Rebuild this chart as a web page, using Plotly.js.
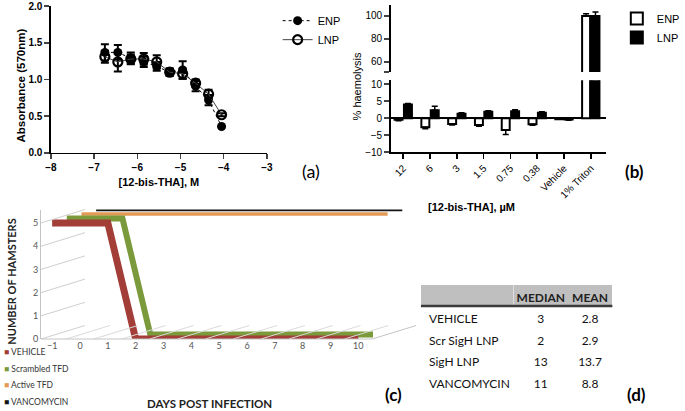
<!DOCTYPE html>
<html><head><meta charset="utf-8">
<script src="https://cdn.plot.ly/plotly-3.0.1.min.js"></script>
<style>html,body{margin:0;padding:0;background:#fff;}#chart{width:685px;height:411px;}</style>
</head><body><div id="chart"></div>
<script>
// ---------- Panel (a): absorbance vs log concentration ----------
const logConc = [-6.75,-6.45,-6.15,-5.85,-5.55,-5.25,-4.95,-4.65,-4.35,-4.05];
const absENP  = [1.37,1.37,1.29,1.24,1.18,1.10,1.13,0.91,0.72,0.36];
const errENP  = [0.11,0.10,0.08,0.07,0.06,0.05,0.12,0.07,0.07,0.00];
const absLNP  = [1.31,1.24,1.28,1.28,1.24,1.10,1.08,0.95,0.80,0.52];
const errLNP  = [0.08,0.13,0.06,0.08,0.09,0.05,0.07,0.05,0.06,0.02];

// ---------- Panel (b): % haemolysis ----------
const hemoCats = ['12','6','3','1.5','0.75','0.38','Vehicle','1% Triton'];
const hemoENP        = [-0.5,-2.7,-1.7,-2.0,-3.5,-1.8,-0.3,100];
const hemoENPerrUp   = [0,0,0,0,0,0,0,2.0];
const hemoENPerrDown = [0.3,0.4,0.3,0.4,1.3,0.3,0,0];
const hemoLNP        = [4.0,2.3,1.3,1.9,2.0,1.6,-0.4,100];
const hemoLNPerrUp   = [0.3,1.2,0.3,0.3,0.5,0.3,0,3.5];
const hemoLNPerrDown = [0,0,0,0,0,0,0.2,0];

// ---------- Panel (c): survival ----------
const days = [-1,0,1,2,3,4,5,6,7,8,9,10];
const survVehicle   = [5,5,5,0,0,0,0,0,0,0,0,0];
const survScrambled = [5,5,5,0,0,0,0,0,0,0,0,0];
const survActive    = [5,5,5,5,5,5,5,5,5,5,5,5];
const survVanco     = [5,5,5,5,5,5,5,5,5,5,5,5];
const survNames  = ['VEHICLE','Scrambled TFD','Active TFD','VANCOMYCIN'];
const survColors = ['#a23d37','#7b9a3c','#e39a55','#151515'];

// ---------- Panel (d): table ----------
const tblGroups = ['VEHICLE','Scr SigH LNP','SigH LNP','VANCOMYCIN'];
const tblMedian = ['3','2','13','11'];
const tblMean   = ['2.8','2.9','13.7','8.8'];

const W = 685, H = 411;
const AR = 'Liberation Sans, Arial, sans-serif';
const CAL = 'Lato, Open Sans, sans-serif';
const idx = hemoCats.map((_, i) => i);
const noWrap = s => s.replace(/ /g, '\u00a0');

const traces = [];
// (a)
traces.push({type:'scatter', mode:'lines+markers', x:logConc, y:absENP, name:'ENP', xaxis:'x', yaxis:'y', legend:'legend',
  line:{color:'#000', width:1, dash:'dot'}, marker:{symbol:'circle', size:9, color:'#000'},
  error_y:{type:'data', array:errENP, color:'#000', thickness:2, width:4}});
traces.push({type:'scatter', mode:'lines+markers', x:logConc, y:absLNP, name:'LNP', xaxis:'x', yaxis:'y', legend:'legend',
  line:{color:'#444', width:1}, marker:{symbol:'circle-open', size:9, color:'#000', line:{width:2.2, color:'#000'}},
  error_y:{type:'data', array:errLNP, color:'#000', thickness:2, width:4}});
// (b) lower and upper segments of the broken axis
[['y2', true], ['y3', false]].forEach(([ya, leg]) => {
  traces.push({type:'bar', x:idx, y:hemoENP, name:'ENP', xaxis:'x2', yaxis:ya, legend:'legend2', showlegend:leg,
    marker:{color:'#fff', line:{color:'#000', width:2}},
    error_y:{type:'data', symmetric:false, array:hemoENPerrUp, arrayminus:hemoENPerrDown, color:'#000', thickness:1.5, width:3}});
  traces.push({type:'bar', x:idx, y:hemoLNP, name:'LNP', xaxis:'x2', yaxis:ya, legend:'legend2', showlegend:leg,
    marker:{color:'#000', line:{color:'#000', width:2}},
    error_y:{type:'data', symmetric:false, array:hemoLNPerrUp, arrayminus:hemoLNPerrDown, color:'#000', thickness:1.5, width:3}});
});
// (c) pseudo-3D: back wall subplot x3/y4 (grid only), then one subplot per series, back to front (x4/y5 ... x7/y8)
const survSeries = [survVehicle, survScrambled, survActive, survVanco];
const cWidths = [7, 6, 3.5, 3.5];
for (let k = 0; k < 4; k++) {
  const s = 3 - k;
  traces.push({type:'scatter', mode:'lines', x:days, y:survSeries[s], name:survNames[s],
    xaxis:'x' + (k + 4), yaxis:'y' + (k + 5), showlegend:false,
    line:{color:survColors[s], width:cWidths[s]}});
}
// (d)
traces.push({type:'table', domain:{x:[431 / W, 627 / W], y:[0.02, 1 - 285 / H]}, columnwidth:[95,56,45],
  header:{values:['', 'MEDIAN', 'MEAN'], align:['left','center','center'], height:21,
    fill:{color:'#bfbfbf'}, line:{color:'#bfbfbf', width:0}, font:{family:CAL, size:12, color:'#222', weight:'bold'}},
  cells:{values:[tblGroups.map(noWrap), tblMedian, tblMean], align:['left','center','center'], height:21.6,
    fill:{color:'#fff'}, line:{color:'#fff', width:0}, font:{family:CAL, size:12, color:'#111'}}});

const ann = (text, px, py, extra) => Object.assign({text, x:px / W, y:1 - py / H, xref:'paper', yref:'paper',
  xanchor:'center', yanchor:'middle', showarrow:false}, extra);

const layout = {
  width:W, height:H, margin:{l:0, r:0, t:0, b:0}, paper_bgcolor:'#fff', plot_bgcolor:'rgba(0,0,0,0)',
  showlegend:true, hovermode:false, bargap:0.3, bargroupgap:0.15,
  xaxis:{domain:[0.076,0.399], anchor:'y', range:[-8,-3], dtick:1, ticks:'outside', ticklen:5, tickwidth:1.5,
    showline:true, linewidth:1.5, linecolor:'#000', showgrid:false, zeroline:false,
    tickfont:{family:AR, size:10, weight:'bold', color:'#000'},
    title:{text:'[12-bis-THA], M', font:{family:AR, size:11, weight:'bold', color:'#000'}, standoff:6}},
  yaxis:{domain:[0.628,0.985], anchor:'x', range:[0,2], dtick:0.5, tickformat:'.1f', ticks:'outside', ticklen:5, tickwidth:1.5,
    showline:true, linewidth:1.5, linecolor:'#000', showgrid:false, zeroline:false,
    tickfont:{family:AR, size:10, weight:'bold', color:'#000'}},
  xaxis2:{domain:[400 / W, 620 / W], anchor:'y2', range:[-0.47,7.55], tickmode:'array', tickvals:idx, ticktext:hemoCats,
    tickangle:-45, ticks:'outside', ticklen:5, tickwidth:1.5, tickcolor:'#000',
    showline:true, linewidth:1.5, linecolor:'#000', showgrid:false, zeroline:false,
    tickfont:{family:AR, size:10, color:'#000'}},
  yaxis2:{domain:[0.630,0.805], anchor:'x2', range:[-10,11.2], tickvals:[-10,-5,0,5,10], ticks:'outside', ticklen:5, tickwidth:1.5,
    showline:true, linewidth:1.5, linecolor:'#000', showgrid:false, zeroline:true, zerolinecolor:'#000', zerolinewidth:1.5,
    tickfont:{family:AR, size:10, color:'#000'}},
  yaxis3:{domain:[0.825,0.988], anchor:'x2', range:[51.3,109.6], tickvals:[51.3,60,80,100], ticktext:['','60','80','100'],
    ticks:'outside', ticklen:5, tickwidth:1.5, showline:true, linewidth:1.5, linecolor:'#000', showgrid:false, zeroline:false,
    tickfont:{family:AR, size:10, color:'#000'}},
  legend:{x:0.415, y:0.985, xanchor:'left', yanchor:'top', bgcolor:'rgba(0,0,0,0)', font:{family:AR, size:11, color:'#000'},
    tracegroupgap:0, itemwidth:30},
  legend2:{x:0.922, y:0.99, xanchor:'left', yanchor:'top', bgcolor:'rgba(0,0,0,0)', font:{family:AR, size:11, color:'#000'},
    tracegroupgap:0, itemwidth:30},
  shapes:[{type:'line', xref:'paper', yref:'paper', x0:431 / W, x1:627 / W, y0:1 - 306 / H, y1:1 - 306 / H, line:{color:'#3a3a3a', width:2.5}}],
  annotations:[
    ann('Absorbance (570nm)', 22, 85, {textangle:-90, font:{family:AR, size:11.5, weight:'bold', color:'#000'}}),
    ann('% haemolysis', 366, 86, {textangle:-90, font:{family:AR, size:11, color:'#000'}}),
    ann('[12-bis-THA], µM', 483, 207, {font:{family:AR, size:11, weight:'bold', color:'#000'}}),
    ann('(a)', 318, 171, {font:{family:CAL, size:18, color:'#000'}}),
    ann('(b)', 650, 171, {font:{family:CAL, size:17, weight:'bold', color:'#000'}}),
    ann('(c)', 403, 394, {font:{family:CAL, size:17, weight:'bold', color:'#000'}}),
    ann('(d)', 652, 394, {font:{family:CAL, size:17, weight:'bold', color:'#000'}}),
    ann('NUMBER OF HAMSTERS', 11, 282, {textangle:-90, font:{family:CAL, size:11, weight:'bold', color:'#222'}}),
    ann('DAYS POST INFECTION', 215, 403, {font:{family:CAL, size:11.5, weight:'bold', color:'#222'}})
  ].concat(survNames.map((n, i) => ann('<span style="color:' + survColors[i] + '">■</span> ' + n, 2, 352 + i * 16.7,
    {xanchor:'left', font:{family:CAL, size:8.5, color:'#333'}})))
};

// ---- pseudo-3D geometry for panel (c), in pixels ----
const pxDay = 28.5, pxVal = 23.2, dayLo = -1.4, dayHi = 10.5;
const depthStep = {dx:15, dy:4.5};
const frontX0 = 42, frontBot = 339;
const cBox = {x0:frontX0, x1:frontX0 + (dayHi - dayLo) * pxDay + 3 * depthStep.dx,
  y0:frontBot - 5 * pxVal - 3 * depthStep.dy, y1:frontBot};
const backX0 = frontX0 + 3 * depthStep.dx, backBot = frontBot - 3 * depthStep.dy;
const frontRight = frontX0 + (dayHi - dayLo) * pxDay;
const hidden = {showgrid:false, zeroline:false, showline:false, showticklabels:false, ticks:'', fixedrange:true};
const gridCol = '#cfcfcf';
// back wall (grid only)
layout.xaxis3 = Object.assign({}, hidden, {domain:[backX0 / W, (backX0 + (dayHi - dayLo) * pxDay) / W], anchor:'y4',
  range:[dayLo, dayHi], showgrid:true, gridcolor:gridCol, tickmode:'array', tickvals:[-0.5,0.5,1.5,2.5,3.5,4.5,5.5,6.5,7.5,8.5,9.5],
  showline:true, mirror:true, linecolor:'#c4c4c4', linewidth:1});
layout.yaxis4 = Object.assign({}, hidden, {domain:[1 - backBot / H, 1 - (backBot - 5 * pxVal) / H], anchor:'x3',
  range:[0, 5], showgrid:true, gridcolor:gridCol, dtick:1, showline:true, mirror:true, linecolor:'#c4c4c4', linewidth:1});
// series subplots: same box, ranges shifted by depth
for (let k = 0; k < 4; k++) {
  const depth = 3 - k, isFront = depth === 0;
  const xr0 = dayLo - depth * depthStep.dx / pxDay, yr0 = -depth * depthStep.dy / pxVal;
  layout['xaxis' + (k + 4)] = Object.assign({}, hidden, {domain:[cBox.x0 / W, cBox.x1 / W], anchor:'y' + (k + 5),
    range:[xr0, xr0 + (cBox.x1 - cBox.x0) / pxDay]},
    isFront ? {showticklabels:true, tickmode:'array', tickvals:days, tickfont:{family:CAL, size:9, color:'#555'}} : {});
  layout['yaxis' + (k + 5)] = Object.assign({}, hidden, {domain:[1 - cBox.y1 / H, 1 - cBox.y0 / H], anchor:'x' + (k + 4),
    range:[yr0, yr0 + (cBox.y1 - cBox.y0) / pxVal]},
    isFront ? {showticklabels:true, tickmode:'array', tickvals:[0,1,2,3,4,5], tickfont:{family:CAL, size:9, color:'#555'},
      showline:true, linecolor:'#c4c4c4', linewidth:1} : {});
}
// depth edges: left-wall levels, floor grid, floor front and right edges
const depthLine = (xPix, yPix, col) => ({type:'line', xref:'paper', yref:'paper', x0:xPix / W, x1:(xPix + 3 * depthStep.dx) / W,
  y0:1 - yPix / H, y1:1 - (yPix - 3 * depthStep.dy) / H, line:{color:col, width:1}});
[0,1,2,3,4,5].forEach(v => layout.shapes.push(depthLine(frontX0, frontBot - v * pxVal, gridCol)));
[-0.5,0.5,1.5,2.5,3.5,4.5,5.5,6.5,7.5,8.5,9.5].forEach(d => layout.shapes.push(depthLine(frontX0 + (d - dayLo) * pxDay, frontBot, '#dadada')));
layout.shapes.push(depthLine(frontRight, frontBot, '#c4c4c4'));
layout.shapes.push({type:'line', xref:'paper', yref:'paper', x0:frontX0 / W, x1:frontRight / W,
  y0:1 - frontBot / H, y1:1 - frontBot / H, line:{color:'#c4c4c4', width:1}});

Plotly.newPlot('chart', traces, layout, {staticPlot:true, displayModeBar:false});
</script></body></html>
